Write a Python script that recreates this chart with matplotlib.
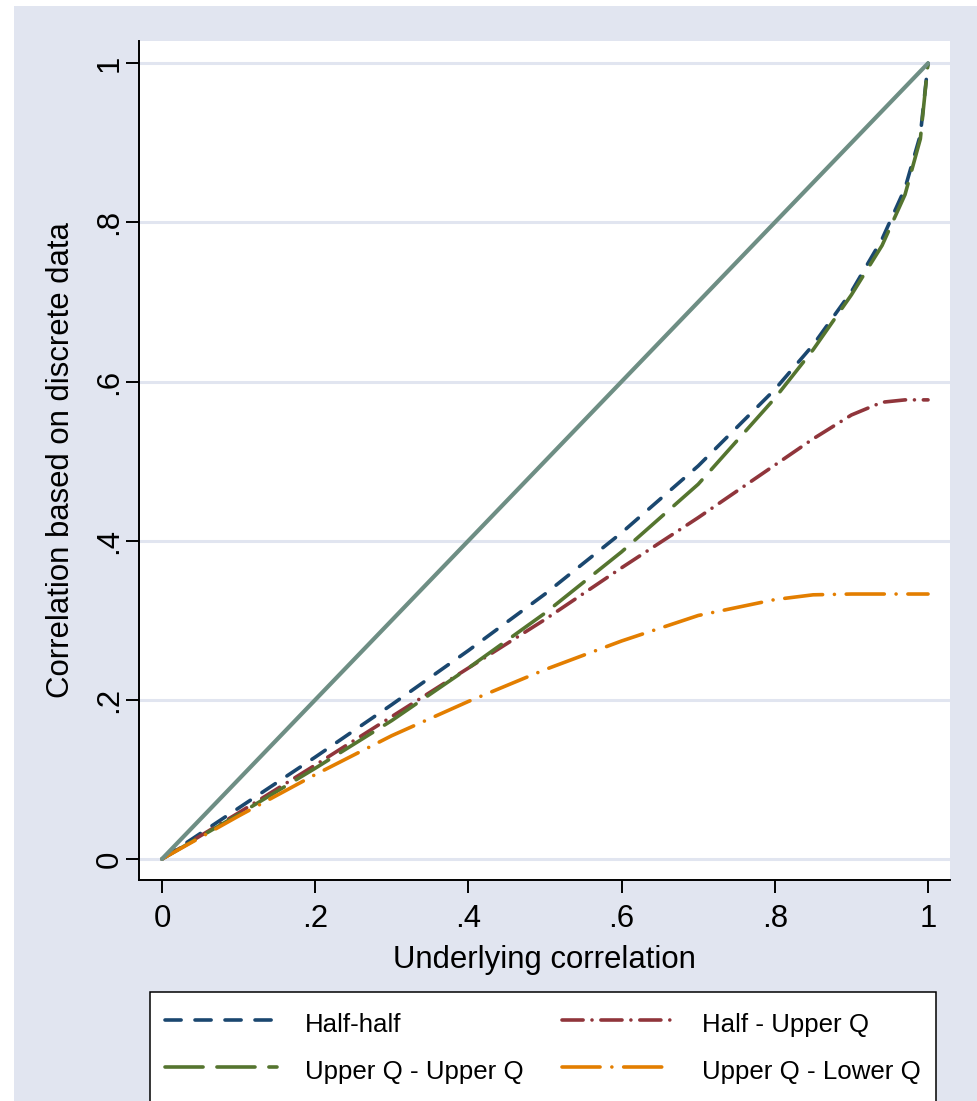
"""Correlation of dichotomised data vs underlying correlation."""

import matplotlib
matplotlib.use("Agg")
import matplotlib.pyplot as plt
from matplotlib.patches import Rectangle

# underlying correlation (x) and correlations based on discrete data (y)
rho = [0, .1, .2, .3, .4, .5, .6, .7, .8, .85, .9, .94, .97, .99, 1]
half_half = [0, .064, .128, .194, .262, .333, .410, .494, .590, .646, .713, .779, .843, .910, 1.0]
half_upper_q = [0, .058, .118, .179, .240, .301, .366, .429, .495, .528, .558, .574, .577, .577, .577]
upper_upper_q = [0, .056, .114, .174, .240, .309, .386, .471, .579, .640, .709, .771, .835, .905, 1.0]
upper_lower_q = [0, .054, .106, .155, .198, .238, .274, .306, .326, .332, .333, .333, .333, .333, .333]
identity = [0, .1, .2, .3, .4, .5, .6, .7, .8, .85, .9, .94, .97, .99, 1]

labels = ["Half-half", "Half - Upper Q", "Upper Q - Upper Q", "Upper Q - Lower Q"]
xticks = [0, .2, .4, .6, .8, 1]
ticklabels = ["0", ".2", ".4", ".6", ".8", "1"]

BG = "#E1E5F0"
plt.rcParams["font.family"] = ["Liberation Sans", "DejaVu Sans"]
plt.rcParams["lines.scale_dashes"] = False

W, H = 978, 1101
fig = plt.figure(figsize=(W / 100, H / 100), dpi=100, facecolor="white")
fig.patches.append(Rectangle((14 / W, 0), 1, 1 - 6 / H, transform=fig.transFigure,
                             facecolor=BG, edgecolor="none", zorder=-10))

ax = fig.add_axes([139 / W, 1 - 880 / H, (950 - 139) / W, (880 - 41) / H])
ax.set_facecolor("white")
ax.set_xlim(-0.030, 1.0287)
ax.set_ylim(-0.0264, 1.028)

# styles (dash patterns in points)
styles = {
    "Half-half": dict(color="#1A476F", dashes=(11.6, 10.0)),
    "Half - Upper Q": dict(color="#90353B", dashes=(15.2, 6.4, 0.01, 6.4)),
    "Upper Q - Upper Q": dict(color="#55752F", dashes=(27.4, 10.0)),
    "Upper Q - Lower Q": dict(color="#E37E00", dashes=(27.4, 8.5, 0.01, 8.5)),
}
series = {
    "Half-half": half_half,
    "Half - Upper Q": half_upper_q,
    "Upper Q - Upper Q": upper_upper_q,
    "Upper Q - Lower Q": upper_lower_q,
}

handles = {}
for name in labels:
    st = styles[name]
    ln, = ax.plot(rho, series[name], color=st["color"], lw=2.6, dashes=st["dashes"],
                  dash_capstyle="round", solid_capstyle="round", zorder=3)
    handles[name] = ln
ax.plot(rho, identity, color="#6E8E84", lw=3.0, solid_capstyle="round", zorder=4)

# grid + axes
for t in xticks:
    ax.axhline(t, color=BG, lw=2.2, zorder=1)
for s in ["top", "right"]:
    ax.spines[s].set_visible(False)
for s in ["left", "bottom"]:
    ax.spines[s].set_linewidth(1.4)
ax.set_xticks(xticks, ticklabels)
ax.set_yticks(xticks, ticklabels)
ax.tick_params(length=9.5, width=1.4, labelsize=22.4)
ax.tick_params(axis="x", pad=8)
ax.tick_params(axis="y", labelrotation=90, pad=1)
for lab in ax.get_yticklabels():
    lab.set_va("center")
ax.set_xlabel("Underlying correlation", fontsize=22.4, labelpad=8)
ax.set_ylabel("Correlation based on discrete data", fontsize=22.4, labelpad=13)

# legend (row-major in the original, so reorder for matplotlib's column fill)
order = ["Half-half", "Upper Q - Upper Q", "Half - Upper Q", "Upper Q - Lower Q"]
leg = fig.legend([handles[k] for k in order], order, ncol=2, loc="upper left",
                 bbox_to_anchor=(150 / W, 0, (936 - 150) / W, 1 - 992 / H),
                 mode="expand", borderaxespad=0, fontsize=18.6, frameon=True,
                 fancybox=False, edgecolor="black", facecolor="white", framealpha=1,
                 handlelength=4.3, handleheight=1.5, handletextpad=1.1,
                 labelspacing=0.6, borderpad=0.6, columnspacing=1.5)
leg.get_frame().set_linewidth(1.1)

fig.savefig("out.png", dpi=100, facecolor=fig.get_facecolor())
